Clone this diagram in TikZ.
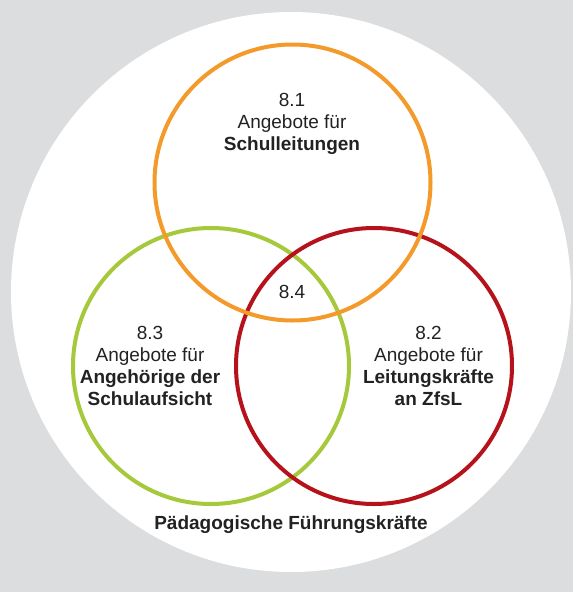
\documentclass[tikz,border=0pt]{standalone}
\usepackage{fontspec}
\setmainfont{Liberation Sans}
\definecolor{bgc}{HTML}{DCDDDF}
\definecolor{orangec}{HTML}{F39A2B}
\definecolor{greenc}{HTML}{A5C93A}
\definecolor{redc}{HTML}{B5121B}
\definecolor{textc}{HTML}{222222}
\begin{document}
\begin{tikzpicture}[x=1pt,y=-1pt,
  ring/.style={circle,draw=#1,line width=4pt,minimum size=276pt,inner sep=0pt},
  lbl/.style={align=center,font=\fontsize{19}{22}\selectfont,text=textc,inner sep=0pt}]
\fill[bgc] (0,0) rectangle (573,592);
\useasboundingbox (0,0) rectangle (573,592);
\node[circle,fill=white,minimum size=560pt,inner sep=0pt] (outer) at (291,292) {};
\node[ring=greenc] (c83) at (211,366) {};
\node[ring=redc] (c82) at (374,366) {};
\node[ring=orangec] (c81) at (292.5,182.5) {};
\node[lbl] (t81) at (292,124) {8.1\\Angebote für\\\textbf{Schulleitungen}};
\node[lbl] (t84) at (292,292) {8.4};
\node[lbl] (t83) at (150,366) {8.3\\Angebote für\\\textbf{Angehörige der}\\\textbf{Schulaufsicht}};
\node[lbl] (t82) at (428.5,366) {8.2\\Angebote für\\\textbf{Leitungskräfte}\\\textbf{an ZfsL}};
\node[lbl] (tpf) at (291,525) {\textbf{Pädagogische Führungskräfte}};
\end{tikzpicture}
\end{document}
